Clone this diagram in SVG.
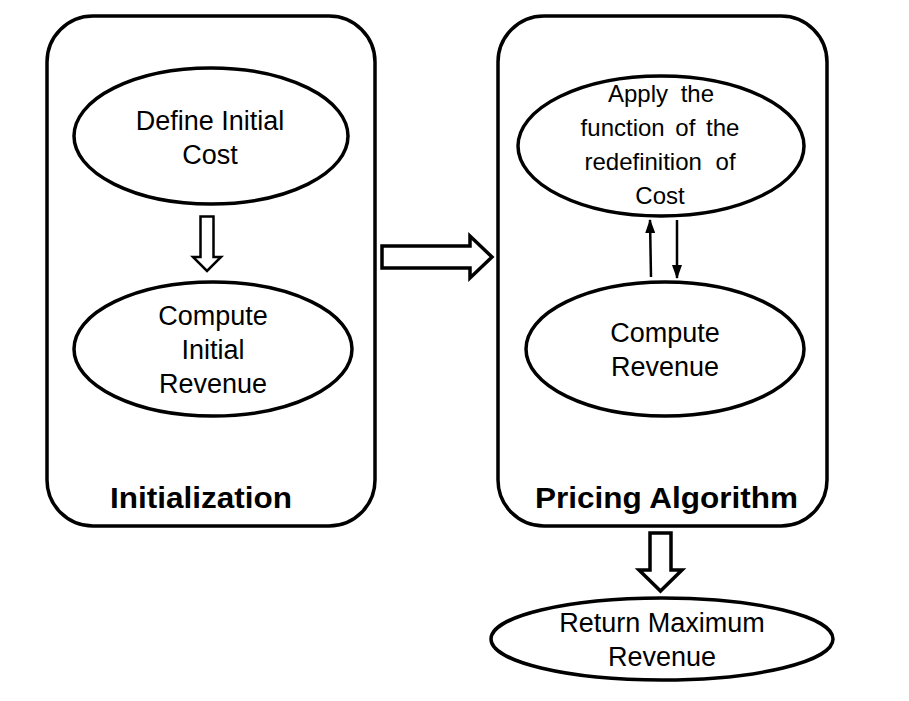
<svg xmlns="http://www.w3.org/2000/svg" width="909" height="701" viewBox="0 0 909 701">
<style>
.box{fill:#fff;stroke:#000;stroke-width:3.5}
.el{fill:#fff;stroke:#000;stroke-width:3.5}
.t{font-family:"Liberation Sans",Arial,sans-serif;font-size:27px;text-anchor:middle;fill:#000}
.ts{font-family:"Liberation Sans",Arial,sans-serif;font-size:24px;text-anchor:middle;fill:#000}
.tb{font-family:"Liberation Sans",Arial,sans-serif;font-size:29px;font-weight:bold;text-anchor:middle;fill:#000}
.block{fill:#fff;stroke:#000;stroke-linejoin:miter}
.thin{stroke:#000;stroke-width:2.5;fill:none}
</style>
<defs>
<marker id="ah" markerWidth="14" markerHeight="10" refX="13" refY="5" orient="auto" markerUnits="userSpaceOnUse" viewBox="0 0 14 10">
<path d="M0,0 L14,5 L0,10 z" fill="#000"/>
</marker>
</defs>
<rect width="909" height="701" fill="#fff"/>
<g id="initialization">
<rect class="box" x="47" y="16" width="328" height="510" rx="46" ry="46"/>
<text class="tb" x="201" y="508" textLength="182" lengthAdjust="spacingAndGlyphs">Initialization</text>
</g>
<g id="pricing">
<rect class="box" x="498" y="16" width="329" height="510" rx="46" ry="46"/>
<text class="tb" x="666.5" y="508" textLength="263" lengthAdjust="spacingAndGlyphs">Pricing Algorithm</text>
</g>
<g id="define-cost">
<ellipse class="el" cx="211" cy="136" rx="137" ry="68"/>
<text class="t" x="210" y="130">Define Initial</text>
<text class="t" x="210" y="164">Cost</text>
</g>
<g id="compute-initial">
<ellipse class="el" cx="213" cy="349" rx="139" ry="67"/>
<text class="t" x="213" y="325">Compute</text>
<text class="t" x="213" y="359">Initial</text>
<text class="t" x="213" y="393">Revenue</text>
</g>
<g id="apply-function">
<ellipse class="el" cx="661" cy="146" rx="143" ry="70"/>
<text class="ts" x="661" y="102" word-spacing="6">Apply the</text>
<text class="ts" x="660" y="136" word-spacing="4">function of the</text>
<text class="ts" x="660" y="170" word-spacing="7">redefinition of</text>
<text class="ts" x="660" y="204">Cost</text>
</g>
<g id="compute-revenue">
<ellipse class="el" cx="665" cy="349" rx="139" ry="67"/>
<text class="t" x="665" y="342">Compute</text>
<text class="t" x="665" y="376">Revenue</text>
</g>
<g id="return-max">
<ellipse class="el" cx="662" cy="639" rx="171" ry="41"/>
<text class="t" x="662" y="632">Return Maximum</text>
<text class="t" x="662" y="666">Revenue</text>
</g>
<g id="connectors">
<path class="block" stroke-width="2.5" d="M200.5,216.5 L213.5,216.5 L213.5,257 L221,257 L207,271 L193,257 L200.5,257 Z"/>
<path class="block" stroke-width="3.5" d="M382,246 L470,246 L470,236 L492,257 L470,278 L470,268 L382,268 Z"/>
<path class="block" stroke-width="3.5" d="M650,533 L671,533 L671,570 L682,570 L660.5,591 L639,570 L650,570 Z"/>
<line class="thin" x1="651" y1="277" x2="650" y2="220" marker-end="url(#ah)"/>
<line class="thin" x1="677" y1="220" x2="677" y2="278" marker-end="url(#ah)"/>
</g>
</svg>
